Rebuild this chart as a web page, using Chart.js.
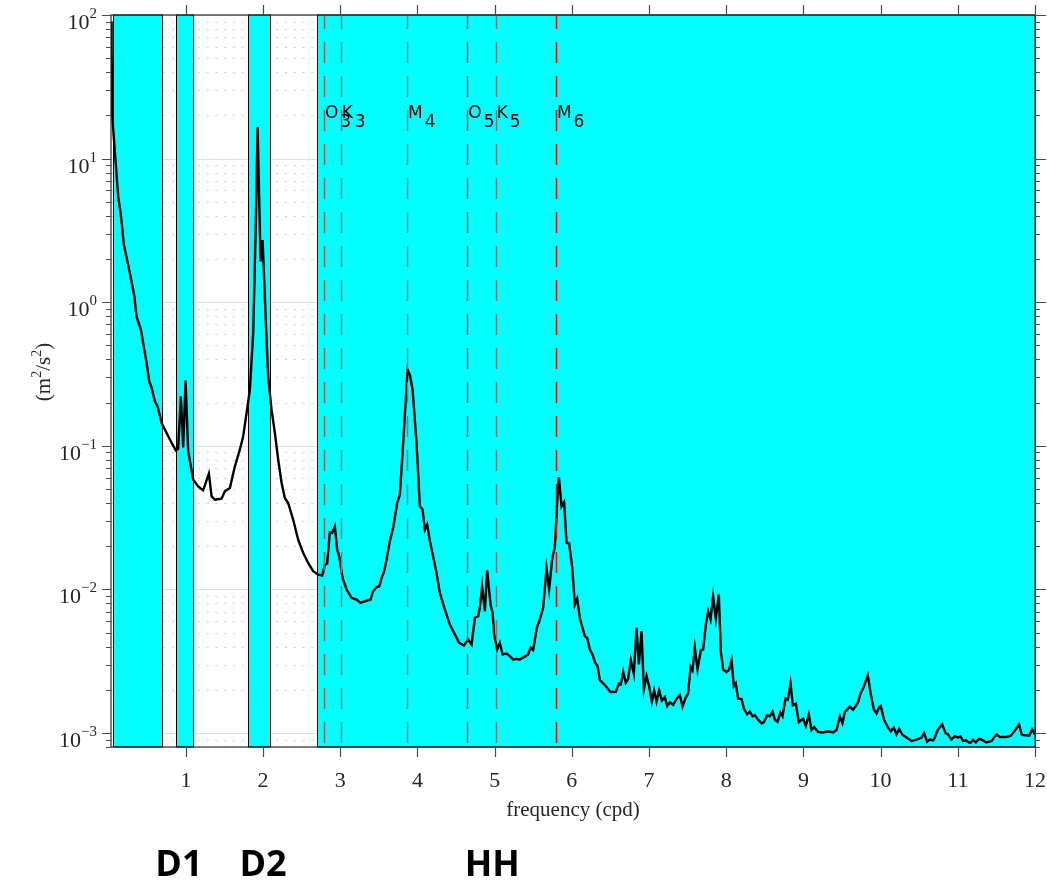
<!DOCTYPE html>
<html lang="en">
<head>
<meta charset="UTF-8">
<title>Velocity spectrum</title>
<style>
  body { margin: 0; background: #fff; }
</style>
</head>
<body>
<canvas id="spec" width="1047" height="883"></canvas>
<script src="https://cdn.jsdelivr.net/npm/chart.js"></script>
<script>
// frequency (cpd) and spectral power (m^2/s^2)
const freq = [0.03,0.038,0.045,0.123,0.158,0.197,0.253,0.330,0.361,0.417,
  0.491,0.525,0.556,0.598,0.633,0.685,0.750,0.815,0.870,0.900,
  0.935,0.965,0.996,1.030,1.095,1.159,1.224,1.298,1.333,1.376,
  1.462,1.505,1.570,1.635,1.699,1.742,1.786,1.829,1.872,1.907,
  1.929,1.968,1.994,2.032,2.045,2.066,2.110,2.153,2.196,2.240,
  2.282,2.325,2.390,2.455,2.519,2.584,2.649,2.714,2.766,2.801,
  2.830,2.865,2.895,2.930,2.960,2.986,3.030,3.082,3.146,3.211,
  3.263,3.319,3.392,3.426,3.470,3.504,3.535,3.569,3.600,3.642,
  3.685,3.737,3.772,3.815,3.872,3.902,3.937,3.988,4.031,4.066,
  4.096,4.126,4.161,4.203,4.247,4.290,4.355,4.420,4.485,4.540,
  4.601,4.657,4.701,4.744,4.786,4.808,4.838,4.873,4.903,4.947,
  4.973,4.994,5.032,5.067,5.102,5.154,5.197,5.240,5.284,5.326,
  5.378,5.434,5.465,5.499,5.543,5.585,5.628,5.672,5.706,5.745,
  5.780,5.810,5.832,5.867,5.900,5.931,5.965,6.004,6.039,6.069,
  6.104,6.126,6.168,6.198,6.233,6.268,6.298,6.333,6.363,6.427,
  6.501,6.570,6.609,6.635,6.665,6.699,6.729,6.764,6.803,6.838,
  6.868,6.903,6.933,6.968,7.001,7.036,7.066,7.097,7.131,7.166,
  7.205,7.235,7.269,7.312,7.356,7.399,7.434,7.473,7.506,7.538,
  7.563,7.593,7.628,7.671,7.701,7.736,7.766,7.797,7.830,7.865,
  7.904,7.930,7.960,8.004,8.037,8.069,8.098,8.124,8.154,8.198,
  8.228,8.271,8.306,8.341,8.371,8.413,8.457,8.487,8.530,8.565,
  8.600,8.630,8.665,8.703,8.729,8.768,8.798,8.833,8.863,8.902,
  8.940,8.996,9.031,9.070,9.105,9.139,9.190,9.255,9.320,9.385,
  9.429,9.472,9.506,9.536,9.601,9.644,9.708,9.740,9.782,9.834,
  9.869,9.912,9.947,9.977,10.003,10.045,10.097,10.132,10.171,10.206,
  10.240,10.284,10.326,10.400,10.465,10.530,10.564,10.602,10.637,10.680,
  10.702,10.737,10.797,10.841,10.874,10.918,10.961,11.004,11.035,11.069,
  11.104,11.143,11.168,11.198,11.233,11.272,11.307,11.372,11.437,11.501,
  11.544,11.631,11.687,11.739,11.794,11.829,11.924,11.963,11.998];

const power = [90,58.7,20.1,5.43,4.04,2.50,1.82,1.12,0.794,0.642,
  0.378,0.281,0.254,0.204,0.188,0.145,0.123,0.105,0.0929,0.0955,
  0.221,0.0975,0.285,0.0914,0.0581,0.0522,0.0490,0.0640,0.0445,0.0422,
  0.0429,0.0482,0.0509,0.0720,0.0940,0.116,0.169,0.245,0.612,3.74,
  16.6,1.92,2.71,0.816,0.547,0.304,0.178,0.123,0.080,0.0551,
  0.0434,0.0400,0.0306,0.0222,0.0180,0.0153,0.0134,0.0127,0.0125,0.0149,
  0.0151,0.0250,0.0248,0.0275,0.0189,0.0170,0.0120,0.00998,0.00875,0.00851,
  0.00807,0.00828,0.00851,0.00972,0.0104,0.0105,0.0120,0.0134,0.0162,0.0217,
  0.0268,0.0400,0.0457,0.105,0.338,0.312,0.245,0.105,0.0379,0.0360,
  0.0261,0.0283,0.0217,0.0170,0.0130,0.00946,0.00724,0.00570,0.00485,0.00425,
  0.00407,0.00448,0.00414,0.00635,0.00651,0.00745,0.0105,0.00705,0.0136,0.00785,
  0.00687,0.00485,0.00382,0.00425,0.00353,0.00358,0.00343,0.00325,0.00329,0.00325,
  0.00338,0.00353,0.00393,0.00378,0.00532,0.00618,0.00745,0.0140,0.00998,0.0162,
  0.0200,0.0400,0.0607,0.0379,0.0405,0.0211,0.0209,0.0143,0.00785,0.00865,
  0.00628,0.00570,0.00473,0.00461,0.00382,0.00353,0.00312,0.00292,0.00234,0.00216,
  0.00193,0.00194,0.00221,0.00218,0.00267,0.00224,0.00239,0.00322,0.00259,0.00541,
  0.00301,0.00512,0.00201,0.00249,0.00212,0.00165,0.00198,0.00166,0.00199,0.00168,
  0.00178,0.00154,0.00164,0.00157,0.00173,0.00184,0.00153,0.00176,0.00188,0.00290,
  0.00274,0.00393,0.00277,0.00378,0.00382,0.00570,0.00705,0.00618,0.00897,0.00625,
  0.00923,0.00372,0.00277,0.00266,0.00277,0.00322,0.00212,0.00222,0.00173,0.00173,
  0.00148,0.00135,0.00141,0.00131,0.00133,0.00124,0.00117,0.00119,0.00133,0.00131,
  0.00141,0.00124,0.00120,0.00139,0.00131,0.00174,0.00171,0.00221,0.00156,0.00160,
  0.00119,0.00126,0.00112,0.00135,0.00105,0.00110,0.00102,0.00101,0.00103,0.00101,
  0.00105,0.00131,0.00117,0.00140,0.00153,0.00145,0.00164,0.00189,0.00210,0.00253,
  0.00191,0.00146,0.00137,0.00150,0.00154,0.00123,0.00109,0.00103,0.00109,0.00098,
  0.00107,0.00097,0.00094,0.00088,0.00090,0.00093,0.00100,0.00087,0.00090,0.00089,
  0.00093,0.00105,0.00115,0.00100,0.00098,0.00090,0.00095,0.00093,0.00095,0.00088,
  0.00089,0.00086,0.00086,0.00090,0.00086,0.00091,0.00090,0.00086,0.00088,0.00098,
  0.00094,0.00094,0.00096,0.00104,0.00115,0.00097,0.00096,0.00106,0.00098];

// shaded frequency bands (cpd)
const bandStart = [0.06, 0.867, 1.80, 2.70];
const bandEnd = [0.69, 1.095, 2.09, 12];

// tidal constituents
const tideName = ['O', 'K', 'M', 'O', 'K', 'M'];
const tideSub = ['3', '3', '4', '5', '5', '6'];
const tideFreq = [2.788, 3.005, 3.864, 4.645, 5.013, 5.794];
const tideColor = ['#a45a5a', '#907070', '#907070', '#c83a3a', '#907070', '#ff0000'];

// axis ticks
const xTicks = [1, 2, 3, 4, 5, 6, 7, 8, 9, 10, 11, 12];
const yExps = ['-3', '-2', '-1', '0', '1', '2'];

// band names under the axis
const groupNames = ['D1', 'D2', 'HH'];
const groupAt = [0.91, 2.0, 4.97];

const serif = '"Liberation Serif", "Times New Roman", serif';

function minorValues(scale) {
  const out = [];
  for (let k = -4; k <= 2; k++) {
    for (let m = 1; m <= 9; m++) {
      const v = m * Math.pow(10, k);
      if (v >= scale.min * 0.999 && v <= scale.max * 1.001) out.push({ v: v, major: m === 1 });
    }
  }
  return out;
}

const specPlugin = {
  id: 'spec',
  beforeDatasetsDraw(chart) {
    const { ctx, chartArea: a, scales: { x, y } } = chart;
    ctx.save();
    // horizontal grid
    minorValues(y).forEach(t => {
      const py = Math.round(y.getPixelForValue(t.v)) + 0.5;
      ctx.beginPath();
      if (t.major) {
        ctx.setLineDash([]);
        ctx.strokeStyle = '#dedede';
      } else {
        ctx.setLineDash([2, 6.7]);
        ctx.strokeStyle = '#cacaca';
      }
      ctx.lineWidth = 1;
      ctx.moveTo(a.left, py);
      ctx.lineTo(a.right, py);
      ctx.stroke();
    });
    ctx.setLineDash([]);
    // bands
    ctx.fillStyle = '#00ffff';
    ctx.strokeStyle = '#000';
    ctx.lineWidth = 1;
    for (let i = 0; i < bandStart.length; i++) {
      const x0 = Math.round(x.getPixelForValue(bandStart[i])) + 0.5;
      const x1 = Math.round(x.getPixelForValue(bandEnd[i])) + 0.5;
      ctx.fillRect(x0, a.top, x1 - x0, a.bottom - a.top);
      ctx.strokeRect(x0, a.top, x1 - x0, a.bottom - a.top);
    }
    ctx.restore();
  },
  afterDatasetsDraw(chart) {
    const { ctx, chartArea: a, scales: { x } } = chart;
    ctx.save();
    ctx.lineWidth = 1.5;
    ctx.setLineDash([21, 13]);
    ctx.lineDashOffset = 7;
    for (let i = 0; i < tideFreq.length; i++) {
      const px = Math.round(x.getPixelForValue(tideFreq[i])) + 0.5;
      ctx.strokeStyle = tideColor[i];
      ctx.beginPath();
      ctx.moveTo(px, a.top);
      ctx.lineTo(px, a.bottom);
      ctx.stroke();
    }
    ctx.setLineDash([]);
    ctx.fillStyle = '#000';
    ctx.font = '17px "DejaVu Sans"';
    ctx.textBaseline = 'alphabetic';
    for (let i = 0; i < tideFreq.length; i++) {
      const px = x.getPixelForValue(tideFreq[i]);
      const w = ctx.measureText(tideName[i]).width;
      ctx.fillText(tideName[i], px + 1, 118);
      ctx.fillText(tideSub[i], px + 1 + w + 2, 127);
    }
    ctx.restore();
  },
  afterDraw(chart) {
    const { ctx, chartArea: a, scales: { x, y } } = chart;
    ctx.save();
    // box
    ctx.strokeStyle = '#2a2a2a';
    ctx.lineWidth = 1.2;
    ctx.strokeRect(a.left, a.top, a.right - a.left, a.bottom - a.top);
    // x ticks top and bottom
    ctx.strokeStyle = '#4a4a4a';
    ctx.lineWidth = 1.2;
    xTicks.forEach(t => {
      const px = Math.round(x.getPixelForValue(t)) + 0.5;
      ctx.beginPath();
      ctx.moveTo(px, a.top - 10); ctx.lineTo(px, a.top);
      ctx.moveTo(px, a.bottom); ctx.lineTo(px, a.bottom + 10);
      ctx.stroke();
    });
    // y ticks left and right
    minorValues(y).forEach(t => {
      const py = Math.round(y.getPixelForValue(t.v)) + 0.5;
      const len = t.major ? 9 : 5;
      ctx.beginPath();
      ctx.moveTo(a.left - len, py); ctx.lineTo(a.left, py);
      ctx.moveTo(a.right, py); ctx.lineTo(a.right + (t.major ? 11 : 5), py);
      ctx.stroke();
    });
    // x tick labels
    ctx.fillStyle = '#262626';
    ctx.font = '22px ' + serif;
    ctx.textAlign = 'center';
    xTicks.forEach(t => {
      ctx.fillText(String(t), x.getPixelForValue(t), 787);
    });
    // y tick labels 10^n
    ctx.textAlign = 'left';
    yExps.forEach(e => {
      const py = y.getPixelForValue(Math.pow(10, Number(e)));
      const expText = e.replace('-', '\u2212');
      ctx.font = '22px ' + serif;
      const w1 = ctx.measureText('10').width;
      ctx.font = '15px ' + serif;
      const w2 = ctx.measureText(expText).width;
      const x0 = 97 - w1 - w2;
      ctx.font = '22px ' + serif;
      ctx.fillText('10', x0, py + 14);
      ctx.font = '15px ' + serif;
      ctx.fillText(expText, x0 + w1, py + 3);
    });
    // x title
    ctx.font = '21px ' + serif;
    ctx.textAlign = 'center';
    ctx.fillText('frequency (cpd)', (a.left + a.right) / 2, 816);
    // y title (m^2/s^2)
    ctx.translate(50, 372);
    ctx.rotate(-Math.PI / 2);
    const parts = [['(m', 21, 0], ['2', 14, -9], ['/s', 21, 0], ['2', 14, -9], [')', 21, 0]];
    let total = 0;
    parts.forEach(p => { ctx.font = p[1] + 'px ' + serif; total += ctx.measureText(p[0]).width; });
    let cx = -total / 2;
    ctx.textAlign = 'left';
    parts.forEach(p => {
      ctx.font = p[1] + 'px ' + serif;
      ctx.fillText(p[0], cx, p[2]);
      cx += ctx.measureText(p[0]).width;
    });
    ctx.restore();
    // band group names
    ctx.save();
    ctx.fillStyle = '#000';
    ctx.font = 'bold 36px "Open Sans"';
    ctx.textAlign = 'center';
    for (let i = 0; i < groupNames.length; i++) {
      ctx.fillText(groupNames[i], x.getPixelForValue(groupAt[i]), 876);
    }
    ctx.restore();
  }
};

const points = freq.map((f, i) => ({ x: f, y: power[i] }));

new Chart(document.getElementById('spec'), {
  type: 'scatter',
  data: {
    datasets: [{
      data: points,
      showLine: true,
      borderColor: '#000',
      borderWidth: 2.4,
      pointRadius: 0,
      fill: false,
      tension: 0
    }]
  },
  options: {
    responsive: false,
    animation: false,
    layout: { padding: { left: 111, right: 12, top: 15, bottom: 136 } },
    plugins: { legend: { display: false }, tooltip: { enabled: false } },
    scales: {
      x: { type: 'linear', min: 0.03, max: 12, display: false },
      y: { type: 'logarithmic', min: 0.0008, max: 100, display: false }
    }
  },
  plugins: [specPlugin]
});
</script>
</body>
</html>
